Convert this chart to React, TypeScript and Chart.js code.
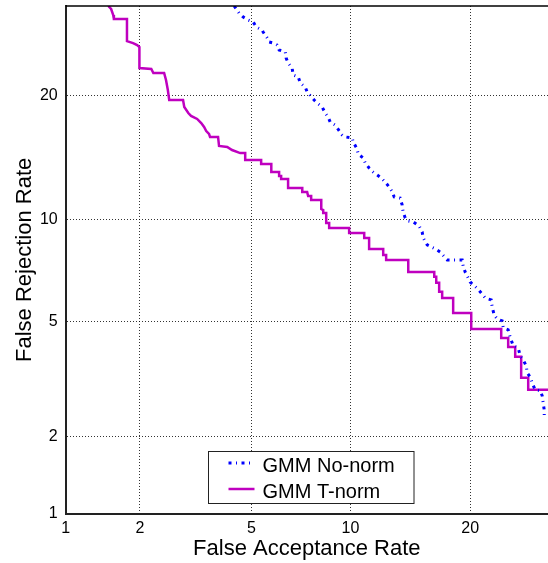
import React, { useEffect, useRef } from 'react';
import { Chart, registerables } from 'chart.js';

Chart.register(...registerables);

// ---- data (percent) ----
const SERIES_LABELS = ['GMM No-norm', 'GMM T-norm'];
const X_TICKS = [1, 2, 5, 10, 20];
const Y_TICKS = [1, 2, 5, 10, 20];
const X_RANGE = [1, 28.9];
const Y_RANGE = [1, 30];
const X_TITLE = 'False Acceptance Rate';
const Y_TITLE = 'False Rejection Rate';

const NONORM_FAR = [4.38, 4.55, 4.70, 4.88, 5.07, 5.19, 5.42, 5.46, 5.63, 5.71, 5.88, 6.05, 6.14, 6.42, 6.46, 6.55, 6.74, 6.79, 7.04, 7.14, 7.39, 7.49, 7.86, 8.02, 8.30, 8.47, 8.64, 8.76, 9.05, 9.18, 9.48, 9.66, 10.12, 10.18, 10.44, 10.51, 10.85, 10.99, 11.26, 11.54, 11.84, 12.13, 12.43, 12.73, 12.97, 13.12, 13.59, 13.75, 13.83, 14.00, 14.25, 14.66, 15.17, 15.43, 15.52, 15.87, 16.60, 17.05, 17.72, 19.18, 19.28, 19.48, 19.99, 20.83, 21.57, 22.22, 22.33, 22.55, 22.88, 23.44, 23.56, 24.12, 24.35, 24.70, 25.28, 25.52, 25.87, 26.23, 26.35, 26.71, 26.95, 27.31, 27.93, 28.18, 28.30, 28.43, 28.43];
const NONORM_FRR = [30.0, 29.13, 28.65, 28.29, 28.05, 27.45, 27.10, 26.87, 26.17, 25.71, 25.59, 25.37, 24.81, 24.58, 23.91, 23.37, 22.83, 22.09, 21.88, 21.25, 20.84, 20.34, 19.54, 19.25, 18.87, 18.29, 17.92, 17.46, 17.18, 16.92, 16.30, 16.13, 16.04, 15.69, 15.11, 14.69, 14.37, 13.97, 13.58, 13.28, 13.05, 12.83, 12.52, 12.17, 11.81, 11.46, 11.39, 10.93, 10.46, 10.09, 9.90, 9.84, 9.59, 9.24, 8.89, 8.50, 8.28, 8.11, 7.70, 7.70, 7.39, 7.10, 6.63, 6.30, 5.93, 5.85, 5.56, 5.25, 5.10, 5.03, 4.78, 4.71, 4.46, 4.18, 4.11, 3.87, 3.75, 3.58, 3.39, 3.28, 3.13, 2.96, 2.94, 2.82, 2.66, 2.51, 2.35];

const TNORM_FAR = [1.50, 1.54, 1.57, 1.58, 1.78, 1.78, 1.88, 1.95, 1.99, 1.99, 2.21, 2.25, 2.47, 2.51, 2.55, 2.58, 2.90, 2.93, 3.03, 3.10, 3.26, 3.37, 3.45, 3.51, 3.59, 3.62, 3.86, 3.89, 4.15, 4.31, 4.59, 4.77, 4.77, 5.38, 5.38, 5.80, 5.80, 6.14, 6.14, 6.23, 6.23, 6.55, 6.55, 7.24, 7.24, 7.49, 7.54, 7.70, 7.70, 8.25, 8.25, 8.36, 8.36, 8.53, 8.53, 8.70, 8.70, 9.92, 9.92, 10.92, 10.92, 11.26, 11.26, 12.28, 12.28, 12.50, 12.50, 14.25, 14.25, 16.51, 16.51, 16.69, 16.69, 16.96, 16.96, 17.24, 17.24, 18.29, 18.29, 20.10, 20.10, 23.33, 23.33, 24.12, 24.12, 24.93, 24.93, 25.63, 25.63, 26.47, 26.47, 30.0];
const TNORM_FRR = [30.0, 29.63, 28.89, 28.41, 28.41, 25.82, 25.59, 25.37, 25.14, 22.83, 22.72, 22.30, 22.30, 21.56, 20.54, 19.54, 19.54, 18.87, 18.29, 18.02, 17.74, 17.37, 17.01, 16.65, 16.39, 16.13, 16.13, 15.36, 15.28, 15.02, 14.77, 14.77, 14.21, 14.21, 13.89, 13.89, 13.28, 13.28, 12.98, 12.98, 12.75, 12.75, 12.10, 12.10, 11.81, 11.81, 11.53, 11.53, 11.26, 11.26, 10.66, 10.59, 10.40, 10.40, 9.77, 9.77, 9.47, 9.47, 9.18, 9.18, 8.89, 8.89, 8.28, 8.28, 7.96, 7.96, 7.70, 7.70, 7.10, 7.10, 6.87, 6.87, 6.59, 6.59, 6.19, 6.19, 5.93, 5.93, 5.33, 5.33, 4.74, 4.74, 4.43, 4.43, 4.14, 4.14, 3.84, 3.84, 3.26, 3.26, 2.96, 2.96];

// inverse of the standard normal CDF (Acklam)
function probit(p: number): number {
  const a = [-3.969683028665376e1, 2.209460984245205e2, -2.759285104469687e2, 1.38357751867269e2, -3.066479806614716e1, 2.506628277459239];
  const b = [-5.447609879822406e1, 1.615858368580409e2, -1.556989798598866e2, 6.680131188771972e1, -1.328068155288572e1];
  const c = [-7.784894002430293e-3, -3.223964580411365e-1, -2.400758277161838, -2.549732539343734, 4.374664141464968, 2.938163982698783];
  const d = [7.784695709041462e-3, 3.224671290700398e-1, 2.445134137142996, 3.754408661907416];
  const plow = 0.02425;
  const phigh = 1 - plow;
  if (p < plow) {
    const q = Math.sqrt(-2 * Math.log(p));
    return (((((c[0] * q + c[1]) * q + c[2]) * q + c[3]) * q + c[4]) * q + c[5]) /
      ((((d[0] * q + d[1]) * q + d[2]) * q + d[3]) * q + 1);
  }
  if (p <= phigh) {
    const q = p - 0.5;
    const r = q * q;
    return (((((a[0] * r + a[1]) * r + a[2]) * r + a[3]) * r + a[4]) * r + a[5]) * q /
      (((((b[0] * r + b[1]) * r + b[2]) * r + b[3]) * r + b[4]) * r + 1);
  }
  const q = Math.sqrt(-2 * Math.log(1 - p));
  return -(((((c[0] * q + c[1]) * q + c[2]) * q + c[3]) * q + c[4]) * q + c[5]) /
    ((((d[0] * q + d[1]) * q + d[2]) * q + d[3]) * q + 1);
}

const pct = (v: number) => probit(v / 100);
const toPoints = (xs: number[], ys: number[]) => xs.map((x, i) => ({ x: pct(x), y: pct(ys[i]) }));

const FONT = "'Liberation Sans', Arial, Helvetica, sans-serif";

const decorPlugin = {
  id: 'detDecor',
  afterDraw(chart: any) {
    const { ctx, chartArea } = chart;
    ctx.save();
    // top frame line
    ctx.strokeStyle = '#000';
    ctx.lineWidth = 1.5;
    ctx.beginPath();
    ctx.moveTo(chartArea.left, chartArea.top);
    ctx.lineTo(chartArea.right, chartArea.top);
    ctx.stroke();

    // legend box
    const bx = 208.5, by = 451.5, bw = 205.5, bh = 52;
    ctx.fillStyle = '#fff';
    ctx.fillRect(bx, by, bw, bh);
    ctx.strokeStyle = '#222';
    ctx.lineWidth = 1;
    ctx.setLineDash([]);
    ctx.strokeRect(bx, by, bw, bh);
    chart.data.datasets.forEach((ds: any, i: number) => {
      const cy = by + 11.5 + i * 26;
      ctx.strokeStyle = ds.borderColor;
      ctx.lineWidth = ds.borderWidth;
      ctx.setLineDash(ds.borderDash || []);
      ctx.beginPath();
      ctx.moveTo(bx + 20, cy);
      ctx.lineTo(bx + 46, cy);
      ctx.stroke();
      ctx.setLineDash([]);
      ctx.fillStyle = '#000';
      ctx.font = `20px ${FONT}`;
      ctx.textBaseline = 'middle';
      ctx.textAlign = 'left';
      ctx.fillText(ds.label, bx + 54, cy + 3);
    });
    ctx.restore();
  },
};

const zeroPadding = (scale: any) => {
  scale.paddingTop = 0;
  scale.paddingBottom = 0;
  scale.paddingLeft = 0;
  scale.paddingRight = 0;
};

export default function App() {
  const ref = useRef<HTMLCanvasElement | null>(null);

  useEffect(() => {
    if (!ref.current) return;
    const gridOpts = {
      color: 'rgba(0,0,0,0.8)',
      lineWidth: 1,
      drawTicks: false,
    };
    const borderOpts = { display: true, color: '#222', width: 2, dash: [1, 2] };
    const chart = new Chart(ref.current, {
      type: 'line',
      data: {
        datasets: [
          {
            label: SERIES_LABELS[0],
            data: toPoints(NONORM_FAR, NONORM_FRR),
            borderColor: '#0000ff',
            borderWidth: 3,
            borderDash: [3, 4.5, 1, 4.5],
            borderCapStyle: 'butt',
            pointRadius: 0,
            fill: false,
            tension: 0,
          },
          {
            label: SERIES_LABELS[1],
            data: toPoints(TNORM_FAR, TNORM_FRR),
            borderColor: '#bf00bf',
            borderWidth: 2.5,
            pointRadius: 0,
            fill: false,
            tension: 0,
          },
        ],
      },
      options: {
        animation: false,
        responsive: false,
        devicePixelRatio: 1,
        parsing: false as any,
        layout: { padding: { top: 6, right: 0, left: 0, bottom: 0 } },
        plugins: {
          legend: { display: false },
          tooltip: { enabled: false },
        },
        scales: {
          x: {
            type: 'linear',
            min: pct(X_RANGE[0]),
            max: pct(X_RANGE[1]),
            afterBuildTicks: (scale: any) => {
              scale.ticks = X_TICKS.map((v) => ({ value: pct(v) }));
            },
            afterFit: (scale: any) => {
              scale.height = 49.3;
              zeroPadding(scale);
            },
            ticks: {
              autoSkip: false,
              maxRotation: 0,
              padding: 5,
              color: '#000',
              font: { family: FONT, size: 16 },
              callback: (_v: any, i: number) => String(X_TICKS[i]),
            },
            grid: gridOpts,
            border: borderOpts,
            title: {
              display: true,
              text: X_TITLE,
              color: '#000',
              font: { family: FONT, size: 22 },
              padding: { top: 0, bottom: 1 },
            },
          },
          y: {
            type: 'linear',
            min: pct(Y_RANGE[0]),
            max: pct(Y_RANGE[1]),
            afterBuildTicks: (scale: any) => {
              scale.ticks = Y_TICKS.map((v) => ({ value: pct(v) }));
            },
            afterFit: (scale: any) => {
              scale.width = 65.7;
              zeroPadding(scale);
            },
            ticks: {
              autoSkip: false,
              padding: 8,
              color: '#000',
              font: { family: FONT, size: 16 },
              callback: (_v: any, i: number) => String(Y_TICKS[i]),
            },
            grid: gridOpts,
            border: borderOpts,
            title: {
              display: true,
              text: Y_TITLE,
              color: '#000',
              font: { family: FONT, size: 22 },
              padding: { top: 12, bottom: 0 },
            },
          },
        },
      },
      plugins: [decorPlugin],
    } as any);
    return () => chart.destroy();
  }, []);

  return (
    <div style={{ position: 'fixed', left: 0, top: 0, width: 548, height: 563, background: '#fff' }}>
      <canvas ref={ref} width={548} height={563} style={{ display: 'block' }} />
    </div>
  );
}
